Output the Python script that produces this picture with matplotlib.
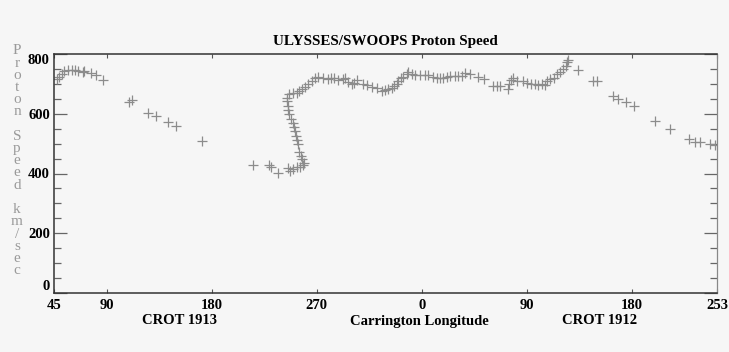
import matplotlib
matplotlib.use("Agg")
import matplotlib.pyplot as plt
from matplotlib.ticker import MultipleLocator

# ---------------------------------------------------------------
# data : Carrington longitude (unwrapped, deg) / proton speed (km/s)
# ---------------------------------------------------------------
lon = [47.3, 49.5, 51.6, 53.6, 57.3, 60.2, 63.0, 65.8, 69.6, 71.0, 76.4, 81.0, 87.2,
       109.3, 111.6, 125.3, 132.4, 142.9, 149.5, 172.0,
       215.2, 229.4, 230.6, 236.6, 245.7, 247.2, 250.0, 252.9, 255.7, 258.1, 259.2,
       257.2, 256.3, 255.1, 254.3, 253.4, 252.3, 251.5, 250.6, 249.5, 248.0, 246.6,
       245.7, 245.2, 244.3, 244.9, 246.6, 249.5, 252.9, 255.1, 257.2, 260.0, 262.9,
       265.8, 268.6, 271.4, 275.7, 280.0, 282.3, 284.9, 288.6, 292.8, 294.3, 297.1,
       300.0, 302.0, 304.8, 310.0, 312.9, 317.2, 321.5, 325.7, 328.6, 331.4, 334.3,
       336.3, 338.6, 340.0, 342.3, 344.2, 347.1, 348.5, 351.4, 354.3, 358.5, 362.8,
       365.7, 370.0, 372.8, 375.7, 378.5, 381.4, 384.2, 388.5, 391.3, 394.3, 397.1,
       401.4, 408.5, 413.4, 421.3, 424.3, 427.1, 434.2, 435.1, 436.2, 438.5, 441.9,
       447.0, 450.0, 453.4, 457.1, 459.9, 462.8, 465.6, 467.6, 469.9, 473.3, 475.6,
       478.5, 481.3, 483.3, 484.7, 485.6, 494.1, 507.1, 510.0, 523.6, 528.4, 535.0,
       542.1, 559.9, 572.7, 589.3, 594.1, 598.4, 607.0, 611.3]
speed = [716, 723, 732, 743, 746, 746, 746, 743, 740, 743, 736, 729, 713,
         638, 646, 604, 593, 571, 560, 509,
         429, 429, 421, 402, 418, 408, 416, 421, 423, 429, 434,
         449, 460, 471, 499, 512, 527, 541, 554, 568, 582, 599,
         612, 627, 643, 654, 666, 669, 671, 677, 682, 690, 699,
         708, 721, 724, 721, 716, 721, 721, 713, 716, 719, 707,
         699, 704, 712, 699, 697, 691, 686, 677, 679, 682, 686,
         693, 701, 710, 721, 723, 732, 740, 734, 730, 730, 730,
         730, 723, 719, 719, 721, 723, 727, 727, 727, 727, 738,
         734, 723, 716, 693, 693, 693, 682, 699, 712, 719, 710,
         708, 704, 701, 699, 697, 699, 697, 708, 716, 721, 732,
         741, 749, 760, 773, 779, 746, 708, 708, 660, 651, 640,
         627, 577, 549, 516, 507, 504, 499, 496]

xticks      = [45, 90, 180, 270, 360, 450, 540, 613]
xtick_lab   = ["45", "90", "180", "270", "0", "90", "180", "253"]
yticks      = [0, 200, 400, 600, 800]
ylab_text   = "Proton Speed km/sec"
title       = "ULYSSES/SWOOPS Proton Speed"

bg    = "#f6f6f6"
serif = ["Liberation Serif", "DejaVu Serif"]

# ---------------------------------------------------------------
# plot
# ---------------------------------------------------------------
fig = plt.figure(figsize=(7.29, 3.52), dpi=100, facecolor=bg)
ax  = fig.add_axes([54/729, 1-293/352, (717-54)/729, (293-54)/352], facecolor=bg)

ax.plot(lon, speed, linestyle="", marker="+", ms=6.5, mew=0.9, color="#8c8c8c")

ax.set_xlim(45, 613)
ax.set_ylim(0, 800)

ax.set_xticks(xticks)
ax.set_xticklabels(xtick_lab, family=serif, fontweight="bold", fontsize=10.5)
ax.set_yticks(yticks)
ax.set_yticklabels([str(v) for v in yticks], family=serif, fontweight="bold", fontsize=10.5)
ax.yaxis.set_minor_locator(MultipleLocator(50))

ax.tick_params(axis="x", which="major", direction="in", length=3, width=0.8,
               color="#555555", top=True, pad=4)
ax.tick_params(axis="y", which="major", direction="in", length=9.5, width=0.9,
               color="#666666", right=True, pad=3)
ax.tick_params(axis="y", which="minor", direction="in", length=5, width=0.9,
               color="#666666", right=True)

# end labels sit inside the axis range
yt = ax.yaxis.get_major_ticks()
yt[0].label1.set_va("bottom")
yt[-1].label1.set_va("top")

for s in ["left", "bottom", "top"]:
    ax.spines[s].set_color("#333333")
    ax.spines[s].set_linewidth(1.1)
ax.spines["right"].set_color("#888888")
ax.spines["right"].set_linewidth(0.9)

# title / axis texts
fig.text(385.5/729, 1-42/352, title, ha="center", va="center",
         family=serif, fontweight="bold", fontsize=10.9)
fig.text(179/729, 1-321/352, "CROT 1913", ha="center", va="center",
         family=serif, fontweight="bold", fontsize=10.5)
fig.text(419/729, 1-321/352, "Carrington Longitude", ha="center", va="center",
         family=serif, fontweight="bold", fontsize=10.5)
fig.text(600/729, 1-321/352, "CROT 1912", ha="center", va="center",
         family=serif, fontweight="bold", fontsize=10.5)

# stacked y label, one character per row
y0, dy = 51, 12.2
for i, ch in enumerate(ylab_text):
    if ch == " ":
        continue
    fig.text(17/729, 1-(y0 + i*dy)/352, ch, ha="center", va="center",
             family=serif, fontsize=11, color="#9a9a9a")

fig.savefig("out.png", dpi=100, facecolor=bg)
